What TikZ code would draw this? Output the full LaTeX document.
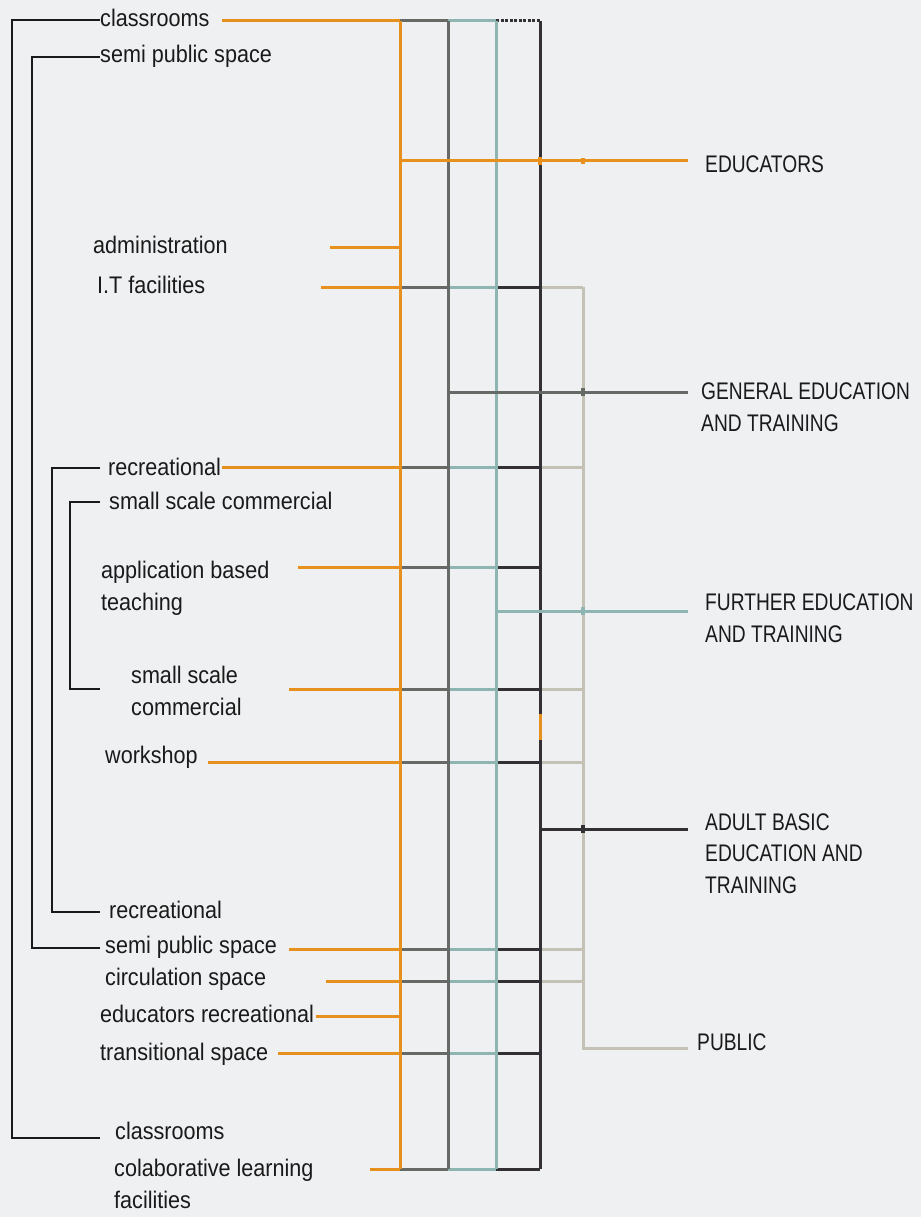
\documentclass[tikz,border=0pt]{standalone}
\usepackage{fontspec}
\setmainfont{Liberation Sans}[FakeStretch=0.9]
\newfontfamily\capsf{Liberation Sans}[FakeStretch=0.8]
\definecolor{bgc}{HTML}{EFF0F2}
\definecolor{orc}{HTML}{E8901E}
\definecolor{gyc}{HTML}{666A66}
\definecolor{tec}{HTML}{8FB5B2}
\definecolor{bkc}{HTML}{333035}
\definecolor{bec}{HTML}{C3C2B5}
\definecolor{txc}{HTML}{1A1A1A}
\tikzset{
  lbl/.style={anchor=base west, inner sep=0pt, text=txc, align=left, font=\fontsize{24}{31.5}\selectfont},
  capl/.style={anchor=base west, inner sep=0pt, text=txc, align=left, font=\capsf\fontsize{24}{31.5}\selectfont},
  orl/.style={draw=orc, line width=3pt},
  gyl/.style={draw=gyc, line width=3pt},
  tel/.style={draw=tec, line width=3pt},
  bkl/.style={draw=bkc, line width=3pt},
  bgl/.style={draw=bec, line width=3pt},
  brk/.style={draw=txc, line width=1.8pt},
}
\newcommand{\gridrow}[3]{%
  \draw[orl] (#2,-#1) -- (400,-#1);
  \draw[gyl] (400,-#1) -- (448,-#1);
  \draw[tel] (448,-#1) -- (496,-#1);
  \draw[bkl] (496,-#1) -- (540,-#1);
  \ifnum#3>3 \draw[bgl] (540,-#1) -- (583,-#1);\fi}
\begin{document}
\begin{tikzpicture}[x=1pt,y=1pt]
\fill[bgc] (0,0) rectangle (921,-1217);
\useasboundingbox (0,0) rectangle (921,-1217);

% left brackets
\draw[brk] (100,-20) -- (12,-20) -- (12,-1138) -- (100,-1138);
\draw[brk] (100,-57) -- (32,-57) -- (32,-948) -- (100,-948);
\draw[brk] (100,-468) -- (52,-468) -- (52,-912) -- (100,-912);
\draw[brk] (100,-502) -- (70,-502) -- (70,-689) -- (100,-689);

% labels left
\node[lbl] (l1) at (100,-27) {classrooms};
\node[lbl] (l2) at (100,-63) {semi public space};
\node[lbl] (l3) at (93,-253) {administration};
\node[lbl] (l4) at (97,-293) {I.T facilities};
\node[lbl] (l5) at (108,-475) {recreational};
\node[lbl] (l6) at (109,-509) {small scale commercial};
\node[lbl] (l7) at (101,-610) {application based\\teaching};
\node[lbl] (l8) at (131,-715) {small scale\\commercial};
\node[lbl] (l9) at (105,-763) {workshop};
\node[lbl] (l10) at (109,-918) {recreational};
\node[lbl] (l11) at (105,-953) {semi public space};
\node[lbl] (l12) at (105,-985) {circulation space};
\node[lbl] (l13) at (100,-1022) {educators recreational};
\node[lbl] (l14) at (100,-1060) {transitional space};
\node[lbl] (l15) at (115,-1139) {classrooms};
\node[lbl] (l16) at (114,-1208) {colaborative learning\\facilities};

% labels right
\node[capl] (r1) at (705,-173) {EDUCATORS};
\node[capl] (r2) at (701,-431) {GENERAL EDUCATION\\AND TRAINING};
\node[capl] (r3) at (705,-642) {FURTHER EDUCATION\\AND TRAINING};
\node[capl] (r4) at (705,-893) {ADULT BASIC\\EDUCATION AND\\TRAINING};
\node[capl] (r5) at (697,-1050) {PUBLIC};

% rows
\draw[orl] (222,-21) -- (400,-21);
\draw[gyl] (400,-21) -- (448,-21);
\draw[tel] (448,-21) -- (496,-21);
\draw[bkl, dash pattern=on 3pt off 1.5pt] (496,-21) -- (540,-21);
\gridrow{287}{321}{4}
\gridrow{467}{222}{4}
\gridrow{567}{298}{3}
\gridrow{689}{289}{4}
\gridrow{762}{208}{4}
\gridrow{949}{289}{4}
\gridrow{981}{326}{4}
\gridrow{1053}{278}{3}
\gridrow{1169}{370}{3}
\draw[orl] (330,-247) -- (400,-247);
\draw[orl] (316,-1016) -- (400,-1016);

% public line
\draw[bgl] (583,-287) -- (583,-1048) -- (688,-1048);

% verticals
\draw[orl] (400,-21) -- (400,-1169);
\draw[gyl] (448,-21) -- (448,-1169);
\draw[tel] (496,-21) -- (496,-1169);
\draw[bkl] (540,-21) -- (540,-1169);
\draw[draw=orc, line width=3pt] (540,-714) -- (540,-740);

% category lines
\draw[orl] (400,-161) -- (688,-161);
\draw[gyl] (448,-392) -- (688,-392);
\draw[tel] (496,-611) -- (688,-611);
\draw[bkl] (540,-829) -- (688,-829);
\fill[orc] (581,-164) rectangle (585,-158);
\fill[orc] (538,-165) rectangle (542,-157);
\fill[gyc] (581,-396) rectangle (585,-388);
\fill[tec] (581,-615) rectangle (585,-607);
\fill[bkc] (581,-833) rectangle (585,-825);
\end{tikzpicture}
\end{document}
